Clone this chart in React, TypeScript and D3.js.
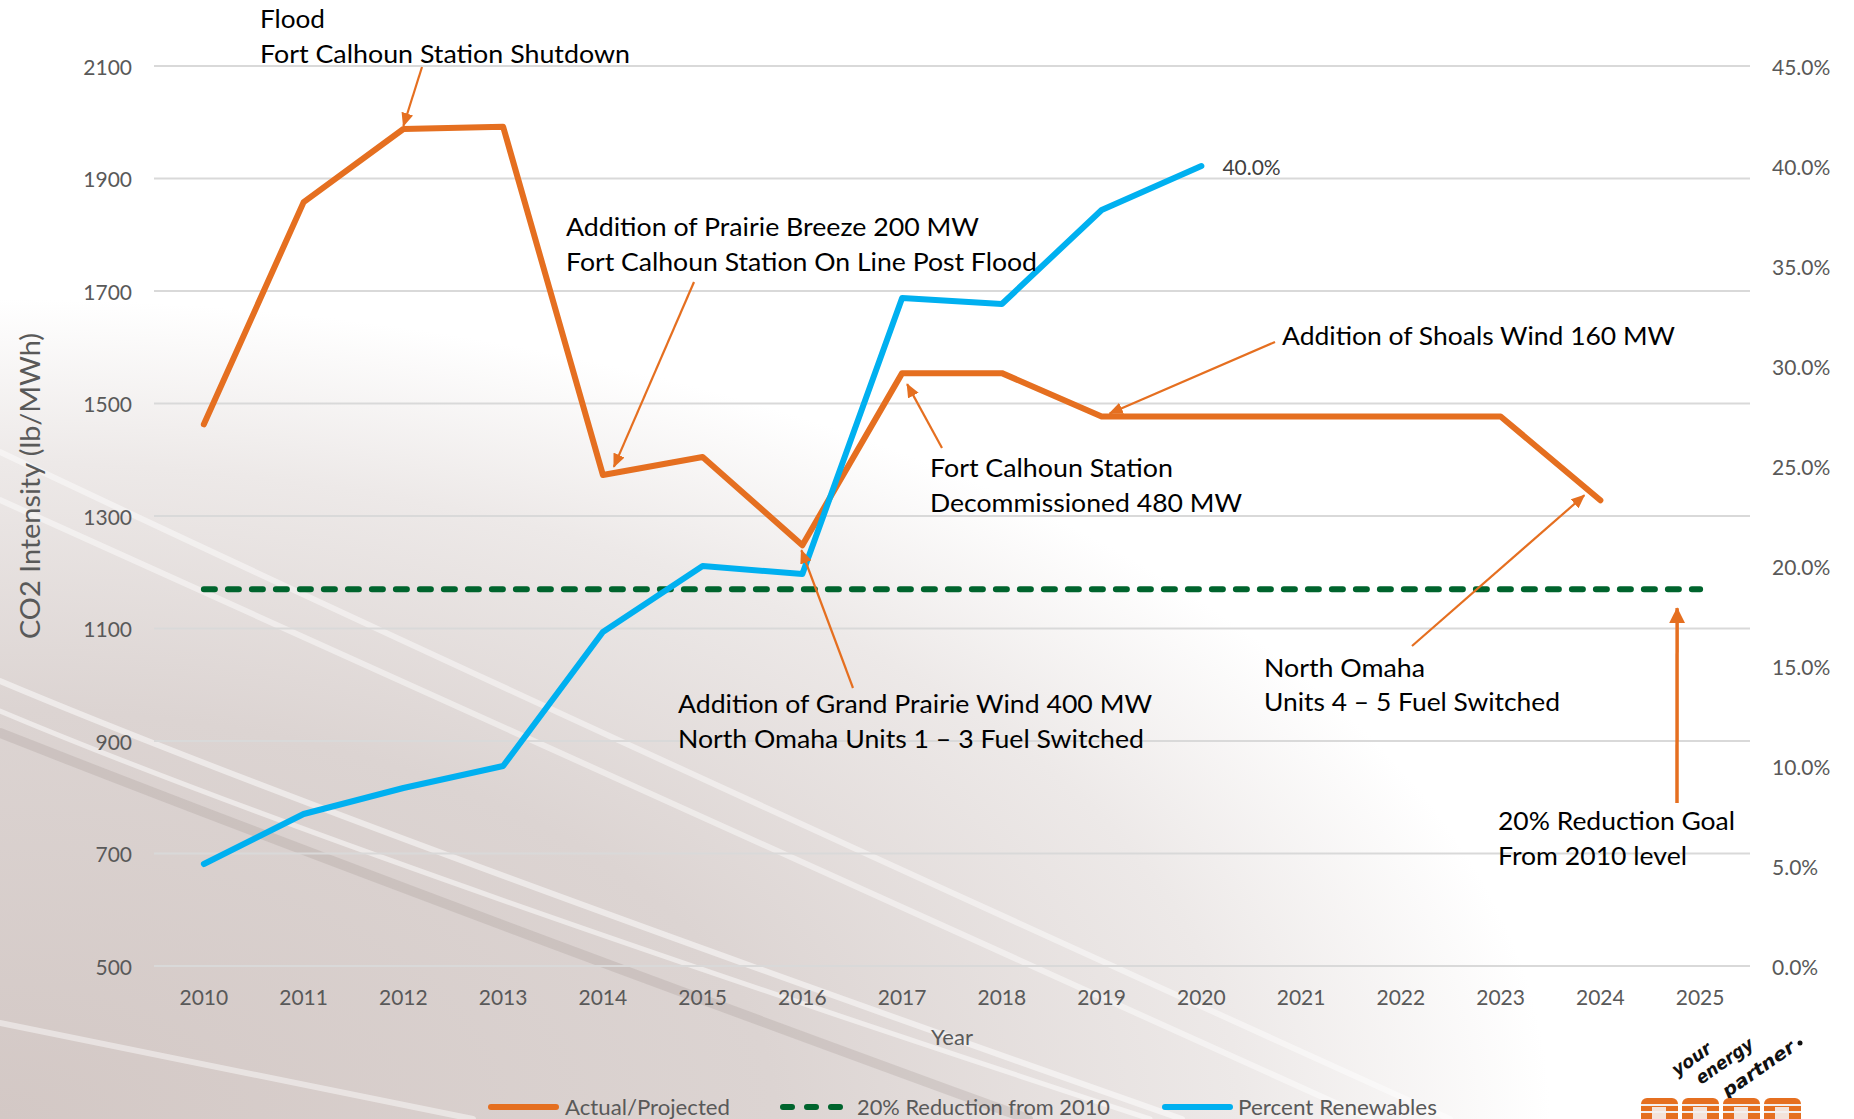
import React from "react";
import * as d3 from "d3";

// ---------- data ----------
const years = ["2010","2011","2012","2013","2014","2015","2016","2017","2018","2019","2020","2021","2022","2023","2024","2025"];
const actualProjected = [1463, 1858, 1988, 1992, 1373, 1405, 1248, 1554, 1554, 1477, 1477, 1477, 1477, 1477, 1328];
const percentRenewables = [5.1, 7.6, 8.9, 10.0, 16.7, 20.0, 19.6, 33.4, 33.1, 37.8, 40.0];
const reductionGoal = 1170;
const leftTicks = [500, 700, 900, 1100, 1300, 1500, 1700, 1900, 2100];
const rightTicks = [0, 5, 10, 15, 20, 25, 30, 35, 40, 45];
const legendItems = ["Actual/Projected", "20% Reduction from 2010", "Percent Renewables"];

const W = 1854;
const H = 1119;
const ORANGE = "#E56F20";
const BLUE = "#00B0F0";
const GREEN = "#00642D";
const GRID = "#D9D9D9";
const AXIS_TEXT = "#595959";
const FONT = "Lato, 'Open Sans', sans-serif";

// annotations: text layout + arrow anchored at a data point
const annotations = [
  { x: 260, lines: [["Flood", 28, 65], ["Fort Calhoun Station Shutdown", 63, 370]], tail: [422, 67], year: "2012", series: "actual", off: [0, -3] },
  { x: 566, lines: [["Addition of Prairie Breeze 200 MW", 236, 413], ["Fort Calhoun Station On Line Post Flood", 271, 471]], tail: [694, 282], year: "2014", series: "actual", off: [11, -8] },
  { x: 1282, lines: [["Addition of Shoals Wind 160 MW", 345, 393]], tail: [1275, 342], year: "2019", series: "actual", off: [8, -3] },
  { x: 930, lines: [["Fort Calhoun Station", 477, 243], ["Decommissioned 480 MW", 512, 312]], tail: [942, 448], year: "2017", series: "actual", off: [5, 11] },
  { x: 678, lines: [["Addition of Grand Prairie Wind 400 MW", 713, 474], ["North Omaha Units 1 \u2013 3 Fuel Switched", 748, 466]], tail: [853, 688], year: "2016", series: "actual", off: [-1, 5] },
  { x: 1264, lines: [["North Omaha", 677, 161], ["Units 4 \u2013 5 Fuel Switched", 711, 296]], tail: [1412, 646], year: "2024", series: "actual", off: [-16, -5] },
  { x: 1498, lines: [["20% Reduction Goal", 830, 237], ["From 2010 level", 865, 189]], tail: [1677, 803], year: "2025", series: "goal", off: [-23, 19], thick: true },
];

export default function App() {
  const x = d3.scalePoint<string>().domain(years).range([154, 1750]).padding(0.5);
  const yL = d3.scaleLinear().domain([500, 2100]).range([966, 66]);
  const yR = d3.scaleLinear().domain([0, 45]).range([966, 66]);

  const lineL = d3.line<number>().x((_, i) => x(years[i]) as number).y((d) => yL(d));
  const lineR = d3.line<number>().x((_, i) => x(years[i]) as number).y((d) => yR(d));
  const goalSeries = years.map(() => reductionGoal);
  const pct = (v: number) => d3.format(".1f")(v) + "%";

  const pointOf = (a: any) => {
    const i = years.indexOf(a.year);
    const v = a.series === "goal" ? reductionGoal : actualProjected[i];
    return [(x(a.year) as number) + a.off[0], yL(v) + a.off[1]];
  };

  const lastR = percentRenewables.length - 1;

  return (
    <svg width={W} height={H} style={{ position: "absolute", left: 0, top: 0, display: "block" }} fontFamily={FONT}>
      <defs>
        <radialGradient id="bg" gradientUnits="userSpaceOnUse" cx={0} cy={0} r={1} fx={0} fy={0} gradientTransform="translate(0,1119) scale(1550,820)">
          <stop offset="0" stopColor="#D3C8C5" />
          <stop offset="0.5" stopColor="#DCD4D2" />
          <stop offset="0.8" stopColor="#EDE9E8" />
          <stop offset="1" stopColor="#FFFFFF" />
        </radialGradient>
        <marker id="ah" viewBox="0 0 14 12" refX="13" refY="6" markerWidth="14" markerHeight="12" markerUnits="userSpaceOnUse" orient="auto">
          <path d="M0,0 L14,6 L0,12 z" fill={ORANGE} />
        </marker>
        <marker id="ahBig" viewBox="0 0 16 16" refX="15" refY="8" markerWidth="16" markerHeight="16" markerUnits="userSpaceOnUse" orient="auto">
          <path d="M0,0 L16,8 L0,16 z" fill={ORANGE} />
        </marker>
      </defs>

      {/* background */}
      <rect x={0} y={0} width={W} height={H} fill="#FFFFFF" />
      <rect x={0} y={0} width={W} height={H} fill="url(#bg)" />
      <g fill="none" strokeLinecap="round">
        <path d="M0,733 Q400,890 1028,1119" stroke="rgba(150,138,132,0.22)" strokeWidth={10} />
        <path d="M0,452 Q480,680 1450,1119" stroke="rgba(255,255,255,0.45)" strokeWidth={6} />
        <path d="M0,500 Q420,690 1371,1119" stroke="rgba(255,255,255,0.45)" strokeWidth={6} />
        <path d="M0,681 Q330,820 1182,1119" stroke="rgba(255,255,255,0.5)" strokeWidth={6} />
        <path d="M0,711 Q330,850 1150,1119" stroke="rgba(255,255,255,0.5)" strokeWidth={5} />
        <path d="M0,1023 L473,1119" stroke="rgba(255,255,255,0.45)" strokeWidth={6} />
      </g>

      {/* gridlines */}
      <g>
        {leftTicks.map((t) => (
          <line key={t} x1={154} x2={1750} y1={yL(t)} y2={yL(t)} stroke={GRID} strokeWidth={2} />
        ))}
      </g>

      {/* left axis labels */}
      <g fontSize={21} fill={AXIS_TEXT} textAnchor="end">
        {leftTicks.map((t) => (
          <text key={t} x={132} y={yL(t)} dominantBaseline="central">{t}</text>
        ))}
      </g>
      {/* right axis labels */}
      <g fontSize={21} fill={AXIS_TEXT} textAnchor="start">
        {rightTicks.map((t) => (
          <text key={t} x={1772} y={yR(t)} dominantBaseline="central">{pct(t)}</text>
        ))}
      </g>
      {/* x axis labels */}
      <g fontSize={21} fill={AXIS_TEXT} textAnchor="middle">
        {years.map((yr) => (
          <text key={yr} x={x(yr) as number} y={1005}>{yr}</text>
        ))}
      </g>
      <text x={952} y={1045} fontSize={22} fill={AXIS_TEXT} textAnchor="middle">Year</text>
      <text transform="translate(30,486) rotate(-90)" fontSize={26} fill={AXIS_TEXT} textAnchor="middle" dominantBaseline="central" textLength={306} lengthAdjust="spacingAndGlyphs">CO2 Intensity (lb/MWh)</text>

      {/* series */}
      <path d={lineL(actualProjected) || ""} fill="none" stroke={ORANGE} strokeWidth={6} strokeLinejoin="round" strokeLinecap="round" />
      <path d={lineL(goalSeries) || ""} fill="none" stroke={GREEN} strokeWidth={6} strokeDasharray="11 13" strokeLinecap="round" />
      <path d={lineR(percentRenewables) || ""} fill="none" stroke={BLUE} strokeWidth={6} strokeLinejoin="round" strokeLinecap="round" />
      <text x={(x(years[lastR]) as number) + 21} y={yR(percentRenewables[lastR]) + 9} fontSize={21} fill="#404040">{pct(percentRenewables[lastR])}</text>

      {/* annotations */}
      {annotations.map((a, k) => {
        const p = pointOf(a);
        return (
          <g key={k}>
            {a.lines.map((ln: any, j: number) => (
              <text key={j} x={a.x} y={ln[1]} fontSize={25} fill="#000" textLength={ln[2]} lengthAdjust="spacingAndGlyphs">{ln[0]}</text>
            ))}
            <line x1={a.tail[0]} y1={a.tail[1]} x2={p[0]} y2={p[1]} stroke={ORANGE} strokeWidth={a.thick ? 3.5 : 2.2} markerEnd={a.thick ? "url(#ahBig)" : "url(#ah)"} />
          </g>
        );
      })}

      {/* legend */}
      <g fontSize={21} fill={AXIS_TEXT}>
        <line x1={491} x2={556} y1={1107} y2={1107} stroke={ORANGE} strokeWidth={6} strokeLinecap="round" />
        <text x={565} y={1115} textLength={165} lengthAdjust="spacingAndGlyphs">{legendItems[0]}</text>
        <line x1={783} x2={843} y1={1107} y2={1107} stroke={GREEN} strokeWidth={6} strokeDasharray="9 15" strokeLinecap="round" />
        <text x={857} y={1115} textLength={253} lengthAdjust="spacingAndGlyphs">{legendItems[1]}</text>
        <line x1={1165} x2={1230} y1={1107} y2={1107} stroke={BLUE} strokeWidth={6} strokeLinecap="round" />
        <text x={1238} y={1115} textLength={199} lengthAdjust="spacingAndGlyphs">{legendItems[2]}</text>
      </g>

      {/* logo */}
      <g fontFamily="'DejaVu Sans', sans-serif" fontStyle="italic" fontWeight="bold" fill="#111" fontSize={18} textAnchor="middle">
        <text transform="translate(1695,1064) rotate(-35)" textLength={44} lengthAdjust="spacingAndGlyphs">your</text>
        <text transform="translate(1728,1066) rotate(-35)" textLength={66} lengthAdjust="spacingAndGlyphs">energy</text>
        <text transform="translate(1762,1074) rotate(-35)" textLength={84} lengthAdjust="spacingAndGlyphs">partner</text>
        <circle cx={1800} cy={1043} r={2.5} fill="#111" />
      </g>
      <g>
        {[0, 1, 2, 3].map((i) => (
          <g key={i}>
            <rect x={1641 + i * 41} y={1098} width={37} height={30} rx={6} fill={ORANGE} />
            <rect x={1641 + i * 41} y={1104} width={37} height={2} fill="#F4EFEE" />
            <rect x={1641 + i * 41} y={1111} width={37} height={2} fill="#F4EFEE" />
            <rect x={1652 + i * 41} y={1107} width={14} height={20} fill="#F4EFEE" opacity={0.9} />
          </g>
        ))}
      </g>
    </svg>
  );
}
